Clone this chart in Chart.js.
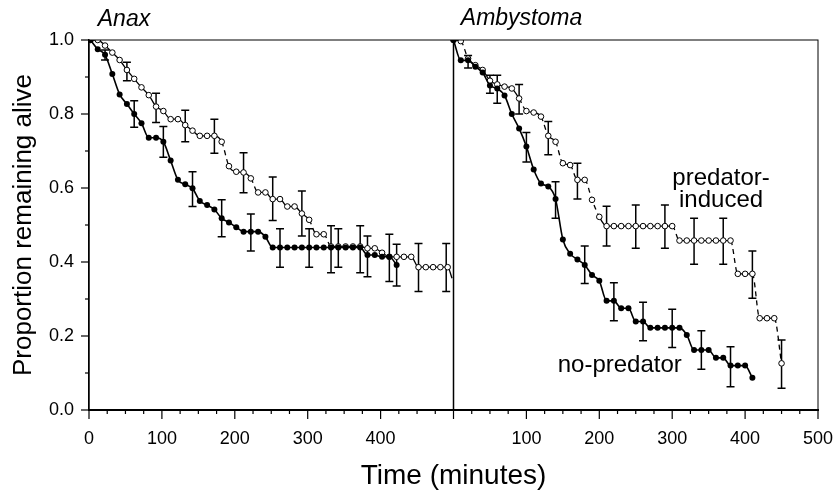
<!DOCTYPE html>
<html lang="en">
<head>
  <meta charset="UTF-8">
  <title>Survival curves</title>
  <script src="https://cdn.jsdelivr.net/npm/chart.js"></script>
  <style>
    html, body { margin: 0; padding: 0; background: #fff; }
    #wrap { width: 834px; height: 493px; }
  </style>
</head>
<body>
  <div id="wrap"><canvas id="survivalChart"></canvas></div>

  <script>
    // Anax panel (left), time in minutes
    const anaxNoPredT = [2,12,22,32,42,52,62,72,82,92,102,112,122,132,142,152,162,172,182,192,202,212,222,232,242,252,262,272,282,292,302,312,322,332,342,352,362,372,382,392,402,412,422];
    const anaxNoPredV = [1.0,0.975,0.96,0.908,0.853,0.827,0.80,0.775,0.736,0.736,0.725,0.674,0.622,0.61,0.599,0.565,0.554,0.542,0.518,0.507,0.494,0.482,0.482,0.482,0.468,0.439,0.439,0.439,0.439,0.439,0.439,0.439,0.439,0.439,0.439,0.439,0.439,0.439,0.419,0.419,0.414,0.414,0.392];
    const anaxPredT = [2,12,22,32,42,52,62,72,82,92,102,112,122,132,142,152,162,172,182,192,202,212,222,232,242,252,262,272,282,292,302,312,322,332,342,352,362,372,382,392,402,412,422,432,442,452,462,472,482,492,498];
    const anaxPredV = [1.0,1.0,0.985,0.966,0.946,0.919,0.895,0.872,0.851,0.82,0.808,0.786,0.786,0.77,0.755,0.741,0.741,0.741,0.725,0.659,0.644,0.642,0.626,0.588,0.588,0.57,0.57,0.55,0.55,0.531,0.514,0.475,0.475,0.442,0.442,0.442,0.442,0.442,0.437,0.437,0.425,0.414,0.414,0.414,0.414,0.386,0.386,0.386,0.386,0.386,0.356];

    // Ambystoma panel (right)
    const ambyNoPredT = [0,10,20,30,40,50,60,70,80,90,100,110,120,130,140,150,160,170,180,190,200,210,220,230,240,250,260,270,280,290,300,310,320,330,340,350,360,370,380,390,400,410];
    const ambyNoPredV = [1.0,0.945,0.945,0.928,0.912,0.877,0.869,0.85,0.80,0.761,0.712,0.65,0.612,0.604,0.57,0.461,0.422,0.407,0.392,0.365,0.349,0.295,0.295,0.275,0.275,0.239,0.239,0.222,0.222,0.222,0.222,0.222,0.203,0.162,0.162,0.162,0.141,0.141,0.12,0.12,0.12,0.087];
    const ambyPredT = [0,10,20,30,40,50,60,70,80,90,100,110,120,130,140,150,160,170,180,190,200,210,220,230,240,250,260,270,280,290,300,310,320,330,340,350,360,370,380,390,400,410,420,430,440,450];
    const ambyPredV = [1.0,0.997,0.95,0.932,0.919,0.89,0.88,0.874,0.869,0.842,0.808,0.804,0.793,0.741,0.725,0.667,0.662,0.622,0.622,0.568,0.522,0.497,0.497,0.497,0.497,0.497,0.497,0.497,0.497,0.497,0.497,0.458,0.458,0.458,0.458,0.458,0.458,0.458,0.458,0.368,0.368,0.368,0.248,0.248,0.248,0.126];

    // error bars: [time, low, high]
    const anaxNoPredErr = [[22,0.946,0.973],[62,0.764,0.836],[102,0.683,0.766],[142,0.55,0.644],[182,0.468,0.568],[222,0.43,0.53],[262,0.386,0.49],[302,0.386,0.49],[342,0.386,0.49],[382,0.36,0.47],[422,0.335,0.448]];
    const anaxPredErr = [[52,0.89,0.94],[92,0.777,0.856],[132,0.725,0.81],[172,0.694,0.786],[212,0.587,0.695],[252,0.512,0.63],[292,0.47,0.592],[332,0.371,0.498],[372,0.371,0.498],[412,0.347,0.475],[452,0.32,0.45],[490,0.32,0.45]];
    const ambyNoPredErr = [[20,0.924,0.958],[60,0.829,0.905],[100,0.67,0.75],[140,0.518,0.617],[180,0.342,0.443],[220,0.241,0.344],[260,0.187,0.291],[300,0.169,0.272],[340,0.11,0.214],[380,0.063,0.171]];
    const ambyPredErr = [[50,0.856,0.905],[90,0.80,0.88],[130,0.69,0.78],[170,0.57,0.667],[210,0.443,0.551],[250,0.437,0.554],[290,0.437,0.554],[330,0.394,0.518],[370,0.394,0.518],[410,0.302,0.43],[450,0.059,0.189]];

    const panelTitles = ['Anax', 'Ambystoma'];
    const PANEL_OFFSET = 500;   // right panel is drawn shifted by this many minutes
    const FONT = "'Liberation Sans', Arial, sans-serif";

    function toPoints(ts, vs, offset) {
      return ts.map((t, i) => ({ x: t + offset, y: vs[i] }));
    }

    // big drops on the predator curves are drawn dashed
    function dashDrops(ctx) {
      return (ctx.p0.parsed.y - ctx.p1.parsed.y) > 0.032 ? [5, 4] : undefined;
    }

    // hide a marker that sits on the panel divider
    function radiusFor(r) {
      return ctx => (ctx.raw && ctx.raw.x > 495 && ctx.raw.x < 500) ? 0 : r;
    }

    const filledStyle = {
      borderColor: '#000', backgroundColor: '#000', borderWidth: 1.6,
      pointRadius: 3, pointBackgroundColor: '#000', pointBorderWidth: 0,
      cubicInterpolationMode: 'monotone', fill: false
    };
    const openStyle = {
      borderColor: '#000', backgroundColor: '#fff', borderWidth: 1.3,
      pointRadius: radiusFor(2.8), pointBackgroundColor: '#fff', pointBorderColor: '#000', pointBorderWidth: 1,
      cubicInterpolationMode: 'monotone', fill: false,
      segment: { borderDash: dashDrops }
    };

    const errorBarPlugin = {
      id: 'errorBars',
      beforeDatasetsDraw(chart) {
        const { ctx, scales: { x, y } } = chart;
        const sets = [[anaxNoPredErr, 0], [anaxPredErr, 0], [ambyNoPredErr, PANEL_OFFSET], [ambyPredErr, PANEL_OFFSET]];
        ctx.save();
        ctx.strokeStyle = '#000';
        ctx.lineWidth = 1.5;
        sets.forEach(([bars, off]) => {
          bars.forEach(([t, lo, hi]) => {
            const px = x.getPixelForValue(t + off);
            const y1 = y.getPixelForValue(lo), y2 = y.getPixelForValue(hi);
            ctx.beginPath();
            ctx.moveTo(px, y1); ctx.lineTo(px, y2);
            ctx.moveTo(px - 4, y1); ctx.lineTo(px + 4, y1);
            ctx.moveTo(px - 4, y2); ctx.lineTo(px + 4, y2);
            ctx.stroke();
          });
        });
        ctx.restore();
      }
    };

    const framePlugin = {
      id: 'frame',
      afterDraw(chart) {
        const { ctx, chartArea: a, scales: { x, y } } = chart;
        ctx.save();
        ctx.strokeStyle = '#000';
        // box and panel divider
        ctx.lineWidth = 1;
        ctx.strokeRect(a.left, a.top, a.right - a.left, a.bottom - a.top);
        ctx.lineWidth = 1.5;
        const dx = x.getPixelForValue(PANEL_OFFSET);
        ctx.beginPath(); ctx.moveTo(dx, a.top); ctx.lineTo(dx, a.bottom); ctx.stroke();

        // tick marks: long on labelled values, short otherwise
        ctx.lineWidth = 1.2;
        x.ticks.forEach(tk => {
          const px = x.getPixelForValue(tk.value);
          const len = tk.value % 100 === 0 ? 9 : 4;
          ctx.beginPath(); ctx.moveTo(px, a.bottom); ctx.lineTo(px, a.bottom + len); ctx.stroke();
        });
        y.ticks.forEach(tk => {
          const py = y.getPixelForValue(tk.value);
          const len = Math.round(tk.value * 10) % 2 === 0 ? 8 : 4;
          ctx.beginPath(); ctx.moveTo(a.left, py); ctx.lineTo(a.left - len, py); ctx.stroke();
        });

        // panel titles
        ctx.fillStyle = '#000';
        ctx.textBaseline = 'alphabetic';
        ctx.textAlign = 'left';
        ctx.font = 'italic 23px ' + FONT;
        ctx.fillText(panelTitles[0], x.getPixelForValue(12), a.top - 14);
        ctx.fillText(panelTitles[1], x.getPixelForValue(PANEL_OFFSET + 10), a.top - 15);

        // curve labels
        ctx.font = '24px ' + FONT;
        ctx.textAlign = 'center';
        ctx.fillText('predator-', x.getPixelForValue(PANEL_OFFSET + 367), y.getPixelForValue(0.608));
        ctx.fillText('induced', x.getPixelForValue(PANEL_OFFSET + 367), y.getPixelForValue(0.549));
        ctx.textAlign = 'left';
        ctx.fillText('no-predator', x.getPixelForValue(PANEL_OFFSET + 143), y.getPixelForValue(0.103));
        ctx.restore();
      }
    };

    const chart = new Chart(document.getElementById('survivalChart'), {
      type: 'line',
      data: {
        datasets: [
          { label: 'Anax no-predator', data: toPoints(anaxNoPredT, anaxNoPredV, 0), ...filledStyle },
          { label: 'Ambystoma no-predator', data: toPoints(ambyNoPredT, ambyNoPredV, PANEL_OFFSET), ...filledStyle },
          { label: 'Anax predator-induced', data: toPoints(anaxPredT, anaxPredV, 0), ...openStyle },
          { label: 'Ambystoma predator-induced', data: toPoints(ambyPredT, ambyPredV, PANEL_OFFSET), ...openStyle }
        ]
      },
      options: {
        responsive: true,
        maintainAspectRatio: false,
        animation: false,
        layout: { padding: { top: 40, right: 16, left: 0, bottom: 0 } },
        plugins: { legend: { display: false }, tooltip: { enabled: false } },
        scales: {
          x: {
            type: 'linear', min: 0, max: 1000,
            grid: { display: false, drawTicks: false },
            border: { display: true, color: '#000', width: 2 },
            ticks: {
              stepSize: 25, autoSkip: false, maxRotation: 0, padding: 18,
              color: '#000', font: { family: FONT, size: 18 },
              callback: v => (v % 100 !== 0 || v === PANEL_OFFSET) ? '' : String(v > PANEL_OFFSET ? v - PANEL_OFFSET : v)
            },
            title: { display: true, text: 'Time (minutes)', color: '#000', font: { family: FONT, size: 28 }, padding: { top: 0, bottom: 0 } },
            afterFit: s => { s.height = 83; s.paddingLeft = 0; s.paddingRight = 0; }
          },
          y: {
            min: 0, max: 1,
            grid: { display: false, drawTicks: false },
            border: { display: true, color: '#000', width: 1.5 },
            ticks: {
              stepSize: 0.1, autoSkip: false, padding: 15,
              color: '#000', font: { family: FONT, size: 18 },
              callback: v => Math.round(v * 10) % 2 === 0 ? v.toFixed(1) : ''
            },
            title: { display: true, text: 'Proportion remaining alive', color: '#000', font: { family: FONT, size: 26 }, padding: { top: 8, bottom: 0 } },
            afterFit: s => { s.width = 89; s.paddingTop = 0; s.paddingBottom = 0; }
          }
        }
      },
      plugins: [errorBarPlugin, framePlugin]
    });
  </script>
</body>
</html>
